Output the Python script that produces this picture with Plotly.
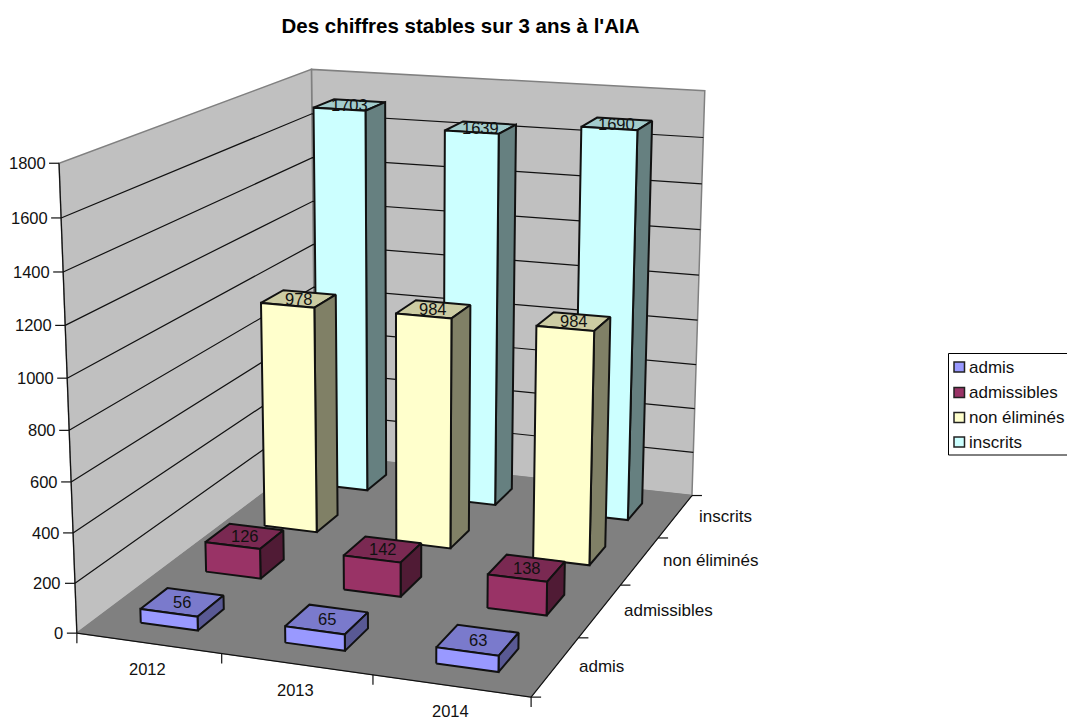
import numpy as np
import plotly.graph_objects as go

# Chart data
title = "Des chiffres stables sur 3 ans à l'AIA"
years = ["2012", "2013", "2014"]
series = ["admis", "admissibles", "non éliminés", "inscrits"]
admis = [56, 65, 63]
admissibles = [126, 142, 138]
non_elimines = [978, 984, 984]
inscrits = [1703, 1639, 1690]
value_ticks = [0, 200, 400, 600, 800, 1000, 1200, 1400, 1600, 1800]
front_colors = ["#9999FF", "#993366", "#FFFFCC", "#CCFFFF"]
side_shades = [0.58, 0.52, 0.5, 0.5]

values = [admis, admissibles, non_elimines, inscrits]
W, H = 1067, 722
VMAX = value_ticks[-1]
FONT = "Liberation Sans, Arial, sans-serif"
NUM_SIZE = 16.5
WORD_SIZE = 17
EDGE = "#111111"
GAP = 0.3  # share of a cell left free on each side of a bar

# Pinhole camera for the box: (category, depth, height) in 0..1 -> page position
calibration = [
    ((0, 0, 0), (77, 632.7)), ((1, 0, 0), (532, 697)), ((1, 1, 0), (692, 495)),
    ((0, 1, 0), (316, 455)), ((0, 0, 1), (59.5, 163.7)), ((0, 1, 1), (311, 69)),
    ((1, 1, 1), (705, 91)), ((1 / 3, 0, 0), (221.7, 653)), ((2 / 3, 0, 0), (372.7, 676.7)),
    ((1, .25, 0), (578, 637.7)), ((1, .5, 0), (620, 585)), ((1, .75, 0), (658, 537.7)),
    ((0, 0, 1600 / 1800), (61, 217.7)), ((0, 0, 200 / 1800), (74.5, 582.7)),
]
rows, rhs = [], []
for (a, b, c), (px, py) in calibration:
    rows.append([a, b, c, 1, 0, 0, 0, 0, -px * a, -px * b, -px * c])
    rows.append([0, 0, 0, 0, a, b, c, 1, -py * a, -py * b, -py * c])
    rhs += [px, py]
camera = np.append(np.linalg.lstsq(np.array(rows, float), np.array(rhs, float), rcond=None)[0], 1).reshape(3, 4)


def project(u, v, w):
    px, py, pw = camera @ np.array([u, v, w, 1.0])
    return px / pw, py / pw


def shade(color, factor):
    r, g, b = (int(color[i:i + 2], 16) for i in (1, 3, 5))
    return f"rgb({r * factor:.0f},{g * factor:.0f},{b * factor:.0f})"


def polyline(points):
    xs, ys = zip(*[project(*p) for p in points])
    return list(xs), list(ys)


fig = go.Figure()


def add_path(chunks, name, line_color, line_width, fill=None):
    xs, ys = [], []
    for cx, cy in chunks:
        xs += cx + [None]
        ys += cy + [None]
    fig.add_trace(go.Scatter(
        x=xs, y=ys, mode="lines", name=name, showlegend=False, hoverinfo="skip",
        line=dict(color=line_color, width=line_width),
        fill="toself" if fill else None, fillcolor=fill,
    ))


# Walls and floor
add_path([polyline([(0, 1, 0), (1, 1, 0), (1, 1, 1), (0, 1, 1), (0, 1, 0)])], "back wall", "#808080", 1.5, "#C0C0C0")
add_path([polyline([(0, 0, 0), (0, 1, 0), (0, 1, 1), (0, 0, 1), (0, 0, 0)])], "side wall", "#808080", 1.5, "#C0C0C0")
add_path([polyline([(0, 0, 0), (1, 0, 0), (1, 1, 0), (0, 1, 0), (0, 0, 0)])], "floor", "#808080", 1, "#808080")

# Gridlines on both walls
grid = []
for tick in value_ticks[1:-1]:
    w = tick / VMAX
    grid.append(polyline([(0, 0, w), (0, 1, w), (1, 1, w)]))
add_path(grid, "gridlines", EDGE, 1.2)

# Axis lines and tick marks
ax_x, ax_y = [], []
for seg in ([(0, 0, 0), (0, 0, 1)], [(0, 0, 0), (1, 0, 0)], [(1, 0, 0), (1, 1, 0)]):
    sx, sy = polyline(seg)
    ax_x += sx + [None]
    ax_y += sy + [None]
for tick in value_ticks:
    px, py = project(0, 0, tick / VMAX)
    ax_x += [px - 10, px, None]
    ax_y += [py, py, None]
for i in range(len(years) + 1):
    px, py = project(i / len(years), 0, 0)
    ax_x += [px, px, None]
    ax_y += [py, py + 10, None]
for j in range(len(series) + 1):
    px, py = project(1, j / len(series), 0)
    ax_x += [px, px + 10, None]
    ax_y += [py, py, None]
fig.add_trace(go.Scatter(x=ax_x, y=ax_y, mode="lines", showlegend=False, hoverinfo="skip",
                         line=dict(color=EDGE, width=1.2), name="axes"))

# Bars, furthest series first so nearer ones overlap them
annotations = []
n_cat, n_ser = len(years), len(series)
for j in reversed(range(n_ser)):
    v0, v1 = (j + GAP) / n_ser, (j + 1 - GAP) / n_ser
    fronts, sides, tops = [], [], []
    for i in range(n_cat):
        u0, u1 = (i + GAP) / n_cat, (i + 1 - GAP) / n_cat
        h = values[j][i] / VMAX
        fronts.append(polyline([(u0, v0, 0), (u1, v0, 0), (u1, v0, h), (u0, v0, h), (u0, v0, 0)]))
        sides.append(polyline([(u1, v0, 0), (u1, v1, 0), (u1, v1, h), (u1, v0, h), (u1, v0, 0)]))
        tops.append(polyline([(u0, v0, h), (u1, v0, h), (u1, v1, h), (u0, v1, h), (u0, v0, h)]))
        lx, ly = project((u0 + u1) / 2, (v0 + v1) / 2, h)
        annotations.append(dict(x=lx, y=ly, text=str(values[j][i]), xanchor="center", yanchor="middle", size=NUM_SIZE))
    add_path(tops, f"{series[j]} top", EDGE, 2, shade(front_colors[j], 0.8))
    add_path(sides, f"{series[j]} side", EDGE, 2, shade(front_colors[j], side_shades[j]))
    add_path(fronts, series[j], EDGE, 2, front_colors[j])

# Axis labels
for tick in value_ticks:
    px, py = project(0, 0, tick / VMAX)
    annotations.append(dict(x=px - 11.5, y=py, text=str(tick), xanchor="right", yanchor="middle", size=NUM_SIZE))
for i, year in enumerate(years):
    px, py = project((i + 0.5) / n_cat, 0, 0)
    annotations.append(dict(x=px - 1, y=py + 25.5, text=year, xanchor="center", yanchor="middle", size=NUM_SIZE))
for j, name in enumerate(series):
    px, py = project(1, (j + 0.5) / n_ser, 0)
    annotations.append(dict(x=px + 21.5, y=py, text=name, xanchor="left", yanchor="middle", size=WORD_SIZE))

# Legend box
legend_rows = [367, 392.5, 417.5, 442]
shapes = [dict(type="rect", x0=948.5, x1=1080, y0=353.5, y1=455, line=dict(color="black", width=1), fillcolor="white", layer="above")]
for name, color, row in zip(series, front_colors, legend_rows):
    shapes.append(dict(type="rect", x0=954, x1=964.5, y0=row - 5, y1=row + 5,
                       line=dict(color="#222222", width=1.5), fillcolor=color, layer="above"))
    annotations.append(dict(x=967, y=row, text=name, xanchor="left", yanchor="middle", size=WORD_SIZE))

for a in annotations:
    size = a.pop("size")
    a.update(xref="x", yref="y", showarrow=False, font=dict(family=FONT, size=size, color="#111111"))

fig.update_layout(
    width=W, height=H, margin=dict(l=0, r=0, t=0, b=0),
    paper_bgcolor="white", plot_bgcolor="white", showlegend=False,
    xaxis=dict(range=[0, W], visible=False, fixedrange=True),
    yaxis=dict(range=[H, 0], visible=False, fixedrange=True),
    title=dict(text=f"<b>{title}</b>", x=460.5 / W, xanchor="center", y=1 - 26 / H, yanchor="middle",
               font=dict(family=FONT, size=20.5, color="black")),
    annotations=annotations, shapes=shapes,
)
fig.write_html("out.html")
